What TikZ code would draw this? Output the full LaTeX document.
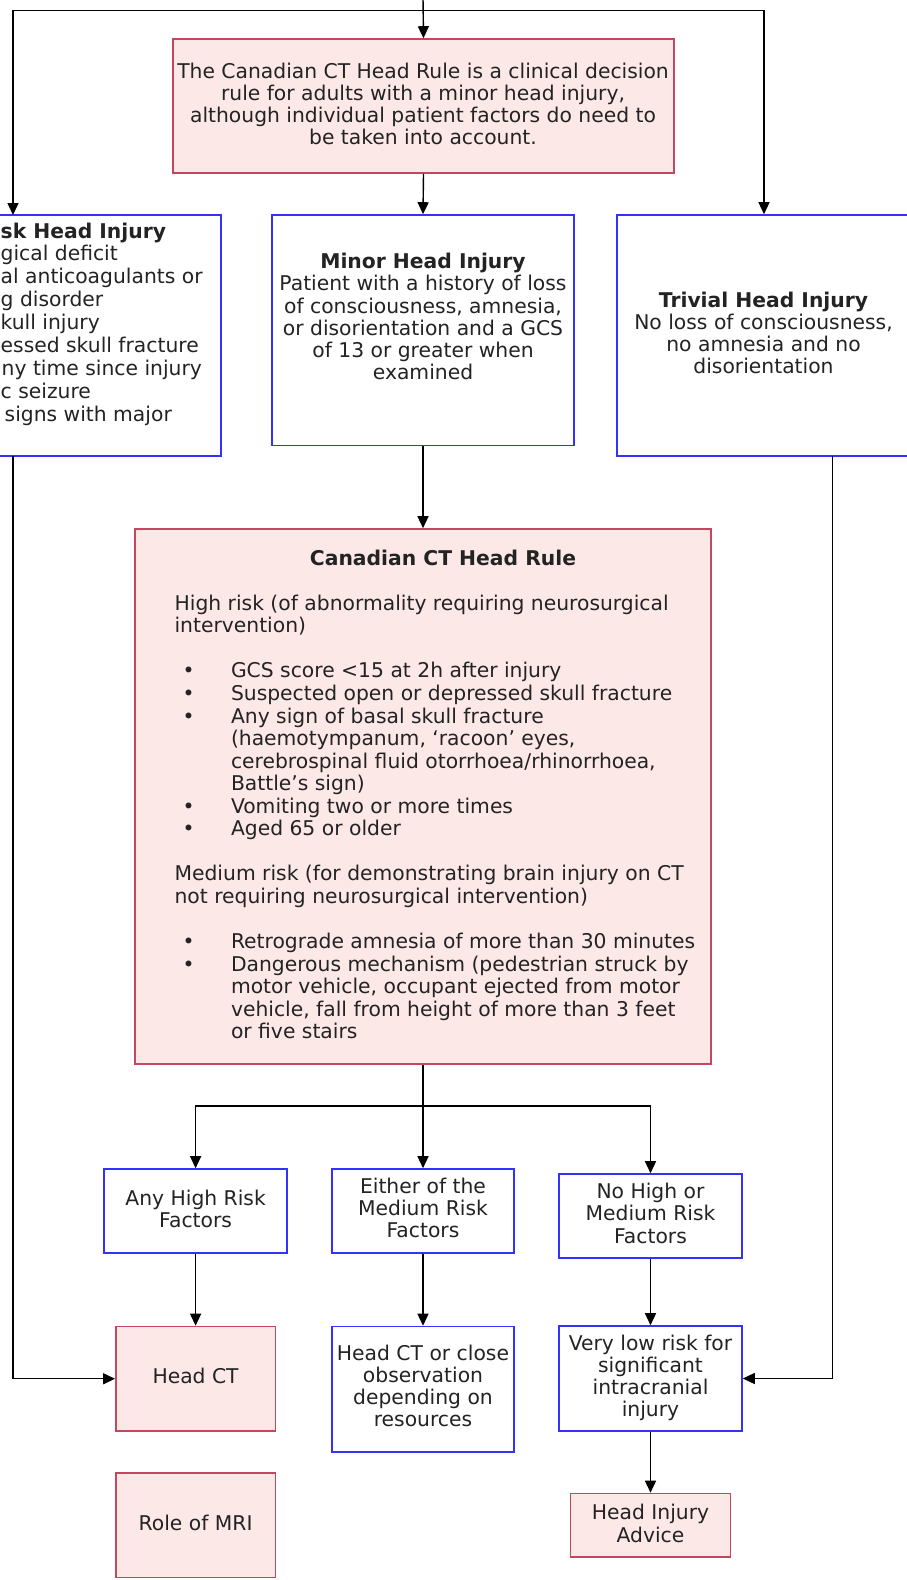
\documentclass[tikz,border=0pt]{standalone}
\usepackage{fontspec}
\setmainfont{DejaVu Sans}
\usetikzlibrary{arrows.meta}
\definecolor{pinkfill}{RGB}{253,232,232}
\definecolor{pinkline}{RGB}{196,70,95}
\definecolor{blueline}{RGB}{50,50,255}
\definecolor{txtcol}{RGB}{35,35,35}
\newcommand\mylines[6]{\foreach \s [count=\i] in {#6} {\node[txt,anchor=#5] (#1\i) at (#2,{#3+#4*(\i-1)}) {\s};}}
\begin{document}
\begin{tikzpicture}[x=1pt,y=-1pt,
  txt/.style={inner sep=0pt,font=\fontsize{20.3}{24}\selectfont,text=txtcol},
  boxbase/.style={draw,rectangle,inner sep=0pt,line width=1.6pt},
  pbox/.style={boxbase,draw=pinkline,fill=pinkfill},
  bbox/.style={boxbase,draw=blueline,fill=white},
  conn/.style={line width=1.4pt},
  arr/.style={line width=1.4pt,-{Triangle[length=12pt,width=11pt]}}]
\useasboundingbox (0,0) rectangle (907,1580);
% boxes
\node[pbox,minimum width=501pt,minimum height=134pt] (top) at (423.5,106) {};
\node[bbox,minimum width=321pt,minimum height=241pt] (high) at (60.5,335.5) {};
\node[bbox,minimum width=302pt,minimum height=230.5pt] (minor) at (423,330.25) {};
\node[bbox,minimum width=294pt,minimum height=241pt] (trivial) at (764,335.5) {};
\node[pbox,minimum width=576pt,minimum height=535pt] (rule) at (423,796.5) {};
\node[bbox,minimum width=183pt,minimum height=84pt] (anyhigh) at (195.6,1211) {};
\node[bbox,minimum width=182.5pt,minimum height=84pt] (either) at (423,1211) {};
\node[bbox,minimum width=183pt,minimum height=84pt] (nohigh) at (650.5,1216) {};
\node[pbox,minimum width=159.5pt,minimum height=104.5pt] (headct) at (195.6,1378.75) {};
\node[bbox,minimum width=182.5pt,minimum height=125.5pt] (close) at (423,1389.25) {};
\node[bbox,minimum width=183pt,minimum height=105pt] (verylow) at (650.5,1378.5) {};
\node[pbox,minimum width=159.5pt,minimum height=104.5pt] (mri) at (195.6,1525.25) {};
\node[pbox,minimum width=160pt,minimum height=63.5pt] (advice) at (650.5,1525.25) {};
% connectors
\coordinate (src) at (423,-2);
\coordinate (fork) at (423,10.7);
\coordinate (hin) at (13,215);
\coordinate (hout) at (13,456);
\coordinate (tout) at (832.5,456);
\coordinate (split) at (423,1106);
\draw[arr] (src) -- (top.north);
\draw[arr] (fork) -| (hin);
\draw[arr] (fork) -| (trivial.north);
\draw[arr] (top.south) -- (minor.north);
\draw[arr] (hout) |- (headct.west);
\draw[arr] (tout) |- (verylow.east);
\draw[arr] (minor.south) -- (rule.north);
\draw[conn] (rule.south) -- (split);
\draw[arr] (split) -| (anyhigh.north);
\draw[arr] (split) -- (either.north);
\draw[arr] (split) -| (nohigh.north);
\draw[arr] (anyhigh.south) -- (headct.north);
\draw[arr] (either.south) -- (close.north);
\draw[arr] (nohigh.south) -- (verylow.north);
\draw[arr] (verylow.south) -- (advice.north);
% texts
\mylines{tt}{423}{78.5}{22.1}{base}{{The Canadian CT Head Rule is a clinical decision},{rule for adults with a minor head injury,},{although individual patient factors do need to},{be taken into account.}}
\mylines{mn}{423}{268.7}{22.2}{base}{{\textbf{Minor Head Injury}},{Patient with a history of loss},{of consciousness, amnesia,},{or disorientation and a GCS},{of 13 or greater when},{examined}}
\mylines{tv}{763.5}{307}{22.2}{base}{{\textbf{Trivial Head Injury}},{No loss of consciousness,},{no amnesia and no},{disorientation}}
\foreach \x/\y/\t [count=\i] in {0.5/238/\textbf{sk Head Injury},0.5/260.9/gical deficit,0.5/283.8/al anticoagulants or,0.5/306.7/g disorder,0.5/329.6/kull injury,0.5/352.5/essed skull fracture,1.5/375.4/ny time since injury,0.5/398.3/c seizure,4.5/421.2/signs with major}
  {\node[txt,anchor=base west] (hl\i) at (\x,\y) {\t};}
\node[txt,anchor=base] (rt) at (443,565.2) {\textbf{Canadian CT Head Rule}};
\mylines{hr}{174.4}{610.3}{22.55}{base west}{{High risk (of abnormality requiring neurosurgical},{intervention)}}
\mylines{hb}{230.8}{677.95}{22.55}{base west}{{GCS score <15 at 2h after injury},{Suspected open or depressed skull fracture},{Any sign of basal skull fracture},{(haemotympanum, ‘racoon’ eyes,},{cerebrospinal fluid otorrhoea/rhinorrhoea,},{Battle’s sign)},{Vomiting two or more times},{Aged 65 or older}}
\mylines{mr}{174.4}{880.9}{22.55}{base west}{{Medium risk (for demonstrating brain injury on CT},{not requiring neurosurgical intervention)}}
\mylines{mb}{230.8}{948.55}{22.55}{base west}{{Retrograde amnesia of more than 30 minutes},{Dangerous mechanism (pedestrian struck by},{motor vehicle, occupant ejected from motor},{vehicle, fall from height of more than 3 feet},{or five stairs}}
\foreach \k in {3,4,5,9,10,15,16}
  {\node[txt,anchor=base] (bul\k) at (188.5,{610.3+22.55*\k}) {\textbullet};}
\mylines{ah}{195.6}{1205.3}{21.7}{base}{{Any High Risk},{Factors}}
\mylines{ei}{423}{1193.5}{22.1}{base}{{Either of the},{Medium Risk},{Factors}}
\mylines{nh}{650.5}{1198.7}{22.2}{base}{{No High or},{Medium Risk},{Factors}}
\node[txt,anchor=base] (hct) at (195.6,1383.7) {Head CT};
\mylines{cl}{423}{1360.3}{22}{base}{{Head CT or close},{observation},{depending on},{resources}}
\mylines{vl}{650.5}{1350.3}{22.2}{base}{{Very low risk for},{significant},{intracranial},{injury}}
\node[txt,anchor=base] (mritxt) at (195.6,1530.3) {Role of MRI};
\mylines{ad}{650.5}{1519.7}{22.3}{base}{{Head Injury},{Advice}}
\end{tikzpicture}
\end{document}
